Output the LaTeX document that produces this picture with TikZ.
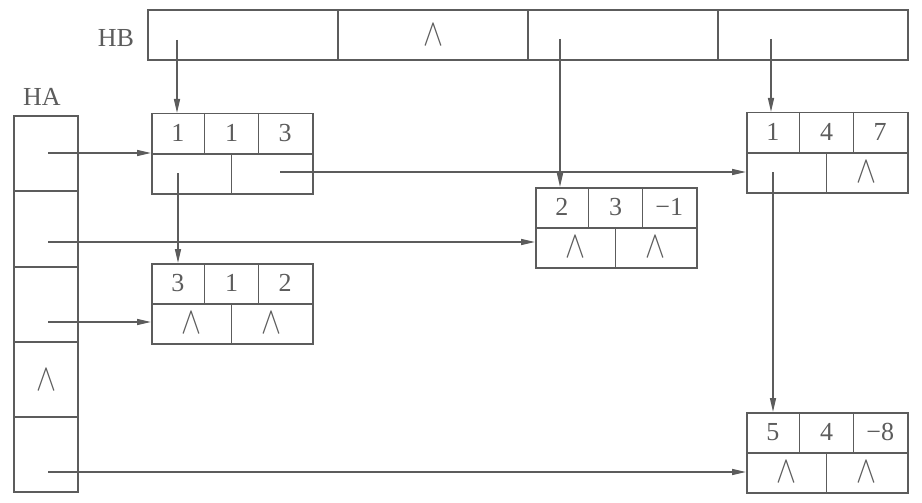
\documentclass[tikz,border=0pt]{standalone}
\usepackage{fontspec}
\setmainfont{Liberation Serif}
\usepackage{graphicx}
\usetikzlibrary{arrows.meta,calc}
\definecolor{ink}{rgb}{0.36,0.36,0.36}
\newcommand{\nul}{\scalebox{3.0}[3.8]{$\wedge$}}
\tikzset{
  line/.style={draw=ink, line width=1.5pt},
  lbox/.style={line, minimum width=161pt, minimum height=80pt, inner sep=0pt, anchor=north west},
  hbcell/.style={line, minimum width=190pt, minimum height=50pt, inner sep=0pt},
  hacell/.style={line, minimum width=64pt, minimum height=75pt, inner sep=0pt},
  txt/.style={text=ink, font=\fontsize{26}{28}\selectfont, inner sep=0pt},
  nil/.style={text=ink, inner sep=0pt},
  arr/.style={draw=ink, line width=1.5pt, -{Triangle[length=14pt,width=6pt]}},
}
\newcommand{\listnode}[8]{%
  \node[lbox] (#1) at (#2,#3) {};
  \draw[line] (#1.west) -- (#1.east);
  \draw[line] ($(#1.north west)+(53.67,0)$) -- ($(#1.west)+(53.67,0)$);
  \draw[line] ($(#1.north west)+(107.33,0)$) -- ($(#1.west)+(107.33,0)$);
  \draw[line] ($(#1.west)+(80.5,0)$) -- ($(#1.south west)+(80.5,0)$);
  \node[txt] (#1-i) at ($(#1.north west)+(26.8,20)$) {#4};
  \node[txt] (#1-j) at ($(#1.north west)+(80.5,20)$) {#5};
  \node[txt] (#1-v) at ($(#1.north west)+(134.2,20)$) {#6};
  \node[nil] (#1-d) at ($(#1.north west)+(40.25,60)$) {#7};
  \node[nil] (#1-r) at ($(#1.north west)+(120.75,60)$) {#8};
}
\begin{document}
\begin{tikzpicture}[x=1pt,y=-1pt]
\useasboundingbox (0,0) rectangle (922,503);
% HB array
\node[txt] (hblabel) at (116,38) {HB};
\node[hbcell] (hb1) at (243,35) {};
\node[hbcell] (hb2) at (433,35) {};
\node[hbcell] (hb3) at (623,35) {};
\node[hbcell] (hb4) at (813,35) {};
\node[nil] (hbnil) at (hb2.center) {\nul};
% HA array
\node[txt] (halabel) at (42,97) {HA};
\node[hacell] (ha1) at (46,153.5) {};
\node[hacell] (ha2) at (46,229) {};
\node[hacell] (ha3) at (46,304.5) {};
\node[hacell] (ha4) at (46,379.5) {};
\node[hacell] (ha5) at (46,454.5) {};
\node[nil] (hanil) at (ha4.center) {\nul};
% list nodes
\listnode{n1}{151}{113}{1}{1}{3}{}{}
\listnode{n2}{151}{263}{3}{1}{2}{\nul}{\nul}
\listnode{n3}{535}{187}{2}{3}{−1}{\nul}{\nul}
\listnode{n4}{746}{112}{1}{4}{7}{}{\nul}
\listnode{n5}{746}{412}{5}{4}{−8}{\nul}{\nul}
% arrow start points
\coordinate (s1) at (177,40);
\coordinate (s3) at (560,39);
\coordinate (s4) at (771,39);
\coordinate (p1) at (178,173);
\coordinate (p1r) at (280,172);
\coordinate (p4) at (773,172);
\coordinate (a1) at (48,153);
\coordinate (a2) at (48,242);
\coordinate (a3) at (48,322);
\coordinate (a5) at (48,472);
% connectors
\draw[arr] (s1) -- (s1 |- n1.north);
\draw[arr] (s3) -- (s3 |- n3.north);
\draw[arr] (s4) -- (s4 |- n4.north);
\draw[arr] (p1) -- (p1 |- n2.north);
\draw[arr] (p4) -- (p4 |- n5.north);
\draw[arr] (p1r) -- (p1r -| n4.west);
\draw[arr] (a1) -- (a1 -| n1.west);
\draw[arr] (a2) -- (a2 -| n3.west);
\draw[arr] (a3) -- (a3 -| n2.west);
\draw[arr] (a5) -- (a5 -| n5.west);
\end{tikzpicture}
\end{document}
